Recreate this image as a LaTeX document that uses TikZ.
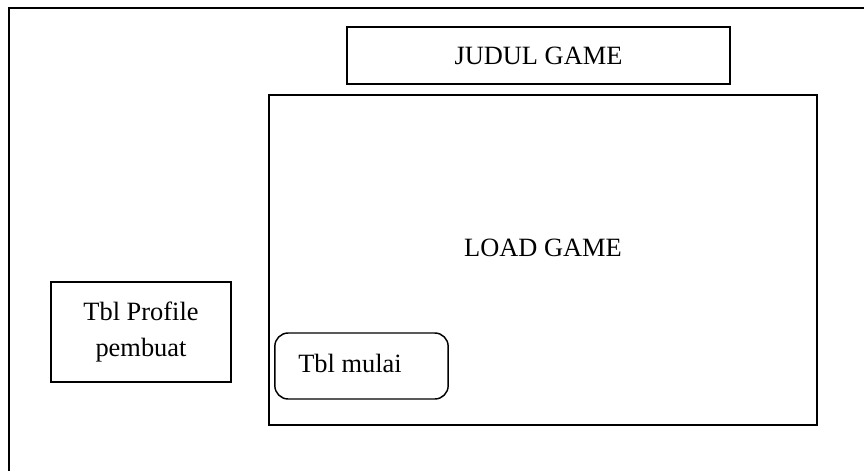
\documentclass[tikz,border=0pt]{standalone}
\usepackage{fontspec}
\setmainfont{Liberation Serif}
\usetikzlibrary{positioning}

\begin{document}
\begin{tikzpicture}[
  x=0.75pt, y=-0.75pt,
  box/.style={draw, line width=1.1pt, inner sep=0pt, font=\fontsize{19.8}{26}\selectfont},
  lbl/.style={font=\fontsize{19.8}{26}\selectfont, align=center}
]
  \useasboundingbox (0,0) rectangle (864,471);

  % Outer frame (cut at the page edge)
  \draw[line width=1.5pt] (864,8) -- (9,8) -- (9,471);

  % Title
  \node[box, minimum width=287pt, minimum height=43pt] at (538.5,55.5) (judul) {JUDUL GAME};

  % Load area
  \node[box, minimum width=411pt, minimum height=247.5pt] at (543,260) (load) {};
  \node[lbl] at (543,248) (loadtxt) {LOAD GAME};

  % Profile button
  \node[box, minimum width=135pt, minimum height=75pt] at (141,332) (profil)
    {\begin{tabular}{@{}c@{}}Tbl Profile\\[1pt]pembuat\end{tabular}};

  % Start button
  \node[box, rounded corners=10pt, minimum width=130pt, minimum height=49.5pt] at (361.5,366) (mulai) {};
  \node[lbl] at (350,363) (mulaitxt) {Tbl mulai};

\end{tikzpicture}
\end{document}
